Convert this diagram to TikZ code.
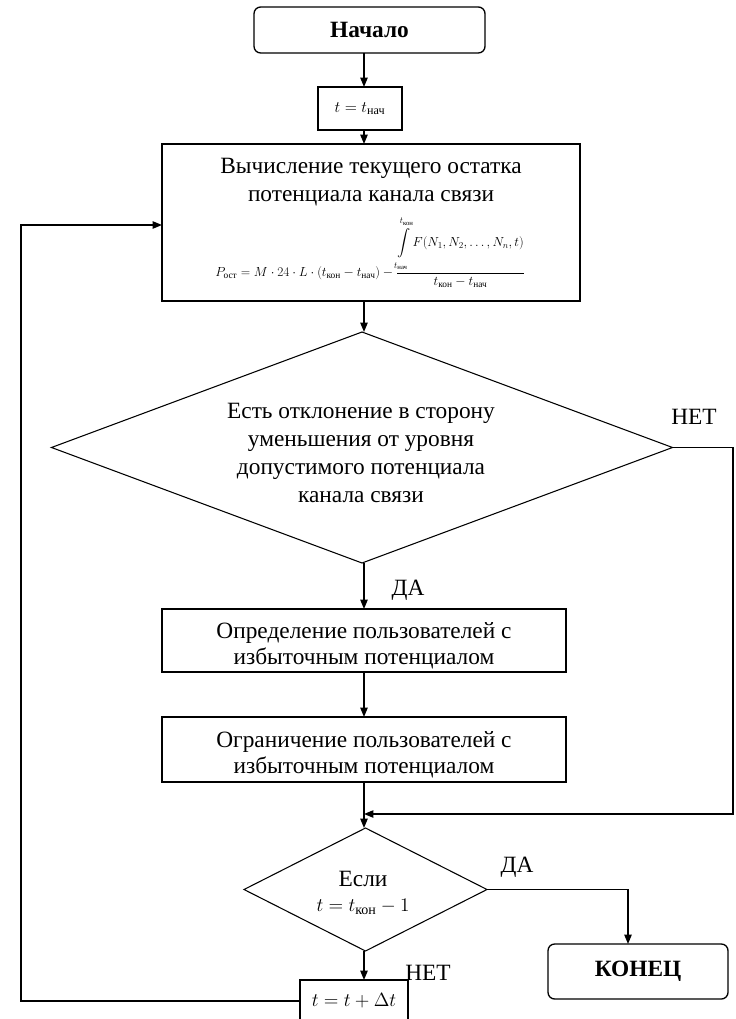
\documentclass[tikz,border=0pt]{standalone}
\usepackage{fontspec}
\setmainfont{Liberation Serif}
\usepackage{amsmath}
\usepackage{graphicx}
\usetikzlibrary{shapes.geometric,arrows.meta}
\begin{document}
\begin{tikzpicture}[x=0.75pt,y=-0.75pt,
  every node/.style={font=\fontsize{17.5}{21}\selectfont, inner sep=0pt, outer sep=0pt},
  box/.style={draw, line width=1pt, rectangle},
  term/.style={draw, line width=1pt, rectangle, rounded corners=5pt},
  dec/.style={draw, line width=0.8pt, diamond},
  arr/.style={line width=1pt, -{Triangle[length=7pt,width=5.5pt]}},
  txt/.style={align=center}]
\useasboundingbox (0,0) rectangle (735,1019);
\clip (0,0) rectangle (735,1019);

% spine and helper coordinates
\coordinate (sp) at (364,0);
\coordinate (nr) at (733,0);
\coordinate (merge) at (364,814);
\coordinate (ej) at (628,0);
\coordinate (lx) at (21,225);

% nodes
\node[term, minimum width=173.25pt, minimum height=34.5pt] (start) at (369.5,30) {\bfseries Начало};
\node[box, minimum width=63pt, minimum height=32.25pt] (tnach) at (360,108.5) {\fontsize{13}{15}\selectfont $t = t_{\text{нач}}$};
\node[box, minimum width=313.5pt, minimum height=117.75pt] (big) at (371,222.5) {};
\node[txt] (bigtext) at (371,182) {Вычисление текущего остатка\\потенциала канала связи};
\node (formula) at (370,252) {\resizebox{232pt}{!}{$P_{\text{ост}} = M\cdot 24\cdot L\cdot (t_{\text{кон}} - t_{\text{нач}}) - \dfrac{\displaystyle\int\limits_{\lower3pt\hbox{$\scriptstyle t_{\text{нач}}$}}^{\raise3pt\hbox{$\scriptstyle t_{\text{кон}}$}} F(N_1, N_2, \ldots, N_n, t)}{t_{\text{кон}} - t_{\text{нач}}}$}};

\node[dec, minimum width=465.75pt, minimum height=173.25pt] (d1) at (362,447.5) {};
\node[txt] (d1text) at (361,453) {Есть отклонение в сторону\\уменьшения от уровня\\допустимого потенциала\\канала связи};

\node[box, minimum width=303pt, minimum height=47.25pt] (b2) at (364,640.5) {};
\node[txt, font=\fontsize{17.5}{19.5}\selectfont] (b2text) at (364,646) {Определение пользователей с\\избыточным потенциалом};
\node[box, minimum width=303pt, minimum height=48.75pt] (b3) at (364,749.5) {};
\node[txt, font=\fontsize{17.5}{19.5}\selectfont] (b3text) at (364,755) {Ограничение пользователей с\\избыточным потенциалом};

\node[dec, minimum width=182.25pt, minimum height=92.25pt] (d2) at (365.5,889.5) {};
\node[txt] (d2a) at (363,879) {Если};
\node (d2b) at (363,907) {\fontsize{15}{18}\selectfont $t = t_{\text{кон}} - 1$};

\node[term, minimum width=135pt, minimum height=41.25pt] (end) at (638,971.5) {\bfseries КОНЕЦ};
\node[box, minimum width=81pt, minimum height=31.5pt] (tinc) at (354,1001) {\fontsize{14}{16}\selectfont $t = t + \Delta t$};

% labels
\node (lnet1) at (694,417) {НЕТ};
\node (lda1) at (408,590) {ДА};
\node (lda2) at (517,867) {ДА};
\node (lnet2) at (428,973) {НЕТ};

% connectors
\draw[arr] (start.south -| sp) -- (tnach.north -| sp);
\draw[arr] (tnach.south -| sp) -- (big.north -| sp);
\draw[arr] (big.south -| sp) -- (d1.north -| sp);
\draw[arr] (d1.south -| sp) -- (b2.north -| sp);
\draw[arr] (b2.south -| sp) -- (b3.north -| sp);
\draw[arr] (b3.south -| sp) -- (d2.north -| sp);
\draw[arr] (d1.east) -- (d1.east -| nr) -- (merge -| nr) -- (merge);
\draw[arr] (d2.east) -- (d2.east -| ej) -- (end.north -| ej);
\draw[arr] (d2.south -| sp) -- (tinc.north -| sp);
\draw[arr] (tinc.west) -- (tinc.west -| lx) -- (lx) -- (big.west |- lx);
\end{tikzpicture}
\end{document}
